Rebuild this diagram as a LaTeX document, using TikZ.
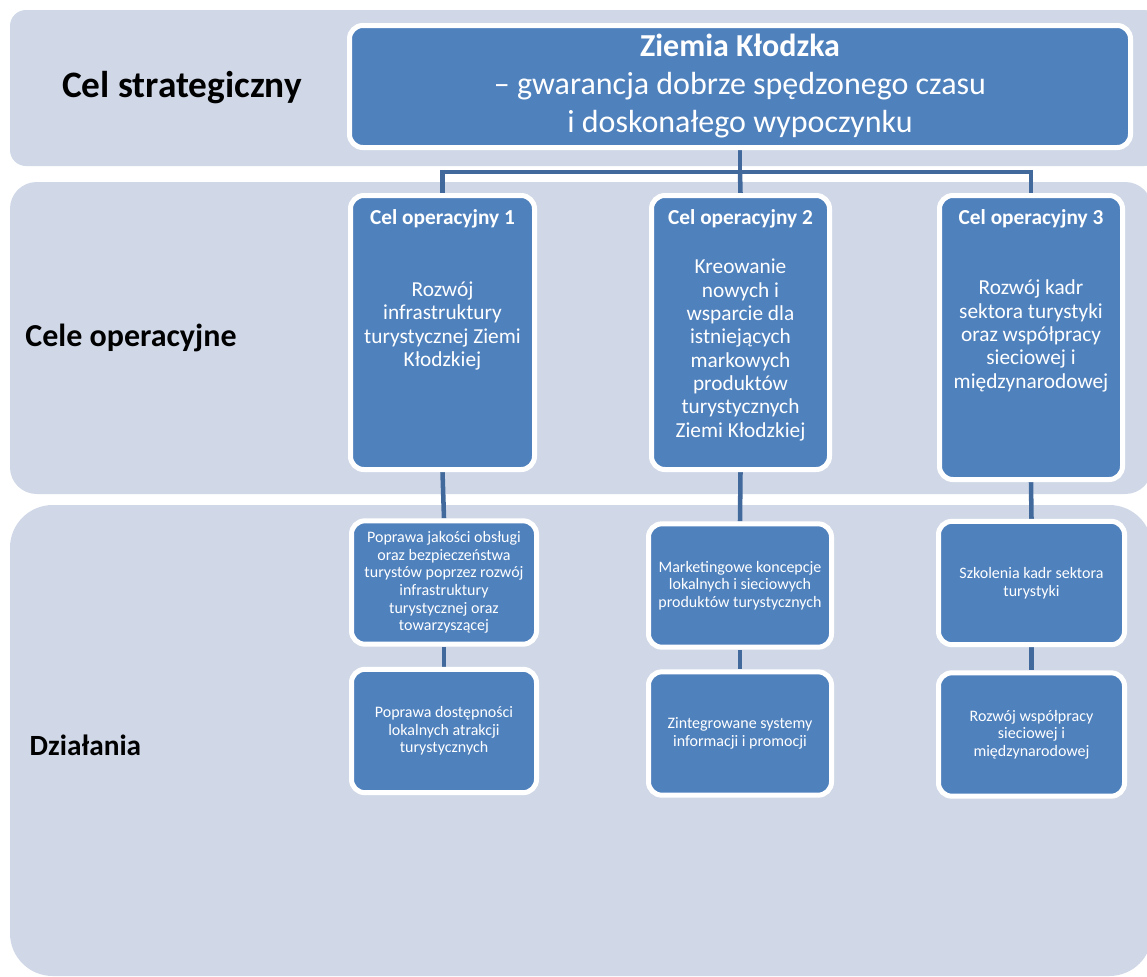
\documentclass[tikz,border=0pt]{standalone}
\usepackage{fontspec}
\setmainfont{Carlito}
\usetikzlibrary{positioning,calc}
\definecolor{bandgray}{HTML}{D0D8E8}
\definecolor{boxblue}{HTML}{4F81BD}
\definecolor{linkblue}{HTML}{41699C}
\pgfdeclarelayer{background}
\pgfsetlayers{background,main}

\begin{document}
\begin{tikzpicture}[x=0.75pt, y=-0.75pt,
    band/.style={fill=bandgray, draw=none},
    bluebox/.style={draw=white, line width=3.75pt, fill=boxblue, rounded corners=10pt,
        text=white, align=center, inner sep=0pt},
    topbox/.style={bluebox, minimum width=585.75pt, minimum height=91.5pt,
        font=\fontsize{24}{28.5}\selectfont},
    celbox/.style={bluebox, minimum height=205.5pt},
    celtitle/.style={text=white, font=\bfseries\fontsize{16}{17.5}\selectfont},
    celtext/.style={text=white, align=center, font=\fontsize{16}{17.5}\selectfont},
    actbox/.style={bluebox, minimum width=138.75pt, minimum height=92.5pt,
        font=\fontsize{12}{13.2}\selectfont},
    link/.style={draw=linkblue, line width=3.4pt},
    rowlabel/.style={font=\bfseries\fontsize{24}{28}\selectfont}]
    \useasboundingbox (0,0) rectangle (1147,976);

    % Bands
    \begin{pgfonlayer}{background}
        \fill[band, rounded corners=12pt] (10,10) rectangle (1160,166);
        \fill[band, rounded corners=20pt] (10,182) rectangle (1152,494);
        \fill[band, rounded corners=32pt] (10,505) rectangle (1152,976);
    \end{pgfonlayer}

    % Row labels
    \node[rowlabel, font=\bfseries\fontsize{28}{32}\selectfont] (lstrat) at (182,88) {Cel strategiczny};
    \node[rowlabel] (loper) at (131,338) {Cele operacyjne};
    \node[rowlabel, font=\bfseries\fontsize{22}{26}\selectfont, anchor=west] (ldzial) at (25,745) {Działania};

    % Strategic goal
    \node[topbox] (top) at (740,86.5) {\textbf{Ziemia Kłodzka}\\– gwarancja dobrze spędzonego czasu\\i doskonałego wypoczynku};

    % Operational goals
    \node[celbox, minimum width=138pt] (c1) at (442.5,332.5) {};
    \node[celbox, minimum width=133.5pt] (c2) at (740.5,332.5) {};
    \node[celbox, minimum width=137.25pt, minimum height=213pt] (c3) at (1031,337.5) {};

    \node[celtitle] (c1t) at (442.5,219) {Cel operacyjny 1};
    \node[celtitle] (c2t) at (740.5,219) {Cel operacyjny 2};
    \node[celtitle] (c3t) at (1031,219) {Cel operacyjny 3};

    \node[celtext] (c1b) at (442.5,326) {Rozwój\\infrastruktury\\turystycznej Ziemi\\Kłodzkiej};
    \node[celtext] (c2b) at (740.5,350) {Kreowanie\\nowych i\\wsparcie dla\\istniejących\\markowych\\produktów\\turystycznych\\Ziemi Kłodzkiej};
    \node[celtext] (c3b) at (1031,336) {Rozwój kadr\\sektora turystyki\\oraz współpracy\\sieciowej i\\międzynarodowej};

    % Actions
    \node[actbox] (a1a) at (444,582.5) {Poprawa jakości obsługi\\oraz bezpieczeństwa\\turystów poprzez rozwój\\infrastruktury\\turystycznej oraz\\towarzyszącej};
    \node[actbox] (a1b) at (444,731) {Poprawa dostępności\\lokalnych atrakcji\\turystycznych};
    \node[actbox, minimum width=137.25pt] (a2a) at (740,585.5) {Marketingowe koncepcje\\lokalnych i sieciowych\\produktów turystycznych};
    \node[actbox, minimum width=137.25pt] (a2b) at (740,733.5) {Zintegrowane systemy\\informacji i promocji};
    \node[actbox, minimum width=139.5pt] (a3a) at (1031.5,583) {Szkolenia kadr sektora\\turystyki};
    \node[actbox, minimum width=139.5pt] (a3b) at (1031.5,734.5) {Rozwój współpracy\\sieciowej i\\międzynarodowej};

    % Links
    \coordinate (bus) at (740,172);
    \begin{pgfonlayer}{background}
        \draw[link] (top.south) -- (bus);
        \draw[link] (bus) -| (c1.north);
        \draw[link] (bus) -- (c2.north);
        \draw[link] (bus) -| (c3.north);
        \draw[link] (c1.south) -- (a1a.north);
        \draw[link] (a1a.south) -- (a1b.north);
        \draw[link] (c2.south) -- (a2a.north);
        \draw[link] (a2a.south) -- (a2b.north);
        \draw[link] (c3.south) -- (a3a.north);
        \draw[link] (a3a.south) -- (a3b.north);
    \end{pgfonlayer}
\end{tikzpicture}
\end{document}
